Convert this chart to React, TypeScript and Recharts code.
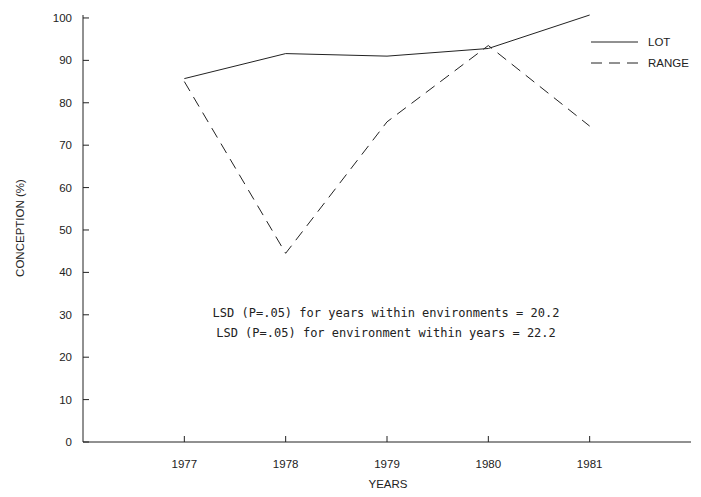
import { Customized, Line, LineChart, XAxis, YAxis } from "recharts";

const years = [1977, 1978, 1979, 1980, 1981];
const lotValues = [85.7, 91.6, 91.0, 92.8, 100.7];
const rangeValues = [85.0, 44.5, 75.5, 93.5, 74.5];
const yTicks = [0, 10, 20, 30, 40, 50, 60, 70, 80, 90, 100];
const notes = [
  "LSD (P=.05) for years within environments = 20.2",
  "LSD (P=.05) for environment within years = 22.2",
];

const data = years.map((year, i) => ({ year, lot: lotValues[i], range: rangeValues[i] }));

const ink = "#222";
const font = "Liberation Sans, Arial, sans-serif";
const tickFont = { fontFamily: font, fontSize: 11.5, fill: ink };
const X_GAP = 18;
const Y_GAP = 11;

// ticks point into the plot, so draw the little mark with the label
function XTick(props: any) {
  const { x, y, payload } = props;
  return (
    <g>
      <line x1={x} x2={x} y1={y - X_GAP} y2={y - X_GAP - 6} stroke={ink} />
      <text x={x} y={y} dy="0.71em" textAnchor="middle" {...tickFont}>
        {payload.value}
      </text>
    </g>
  );
}

function YTick(props: any) {
  const { x, y, payload } = props;
  return (
    <g>
      <line x1={x + Y_GAP} x2={x + Y_GAP + 6} y1={y} y2={y} stroke={ink} />
      <text x={x} y={y} dy="0.355em" textAnchor="end" {...tickFont}>
        {payload.value}
      </text>
    </g>
  );
}

// legend, axis titles and the LSD notes
function Extras() {
  const rows = [
    { label: "LOT", dash: undefined },
    { label: "RANGE", dash: "11 7" },
  ];
  return (
    <g>
      {rows.map((r, i) => (
        <g key={r.label}>
          <line x1={591} x2={638} y1={42 + i * 21} y2={42 + i * 21} stroke={ink} strokeDasharray={r.dash} />
          <text x={648} y={46 + i * 21} {...tickFont}>
            {r.label}
          </text>
        </g>
      ))}
      <text x={388} y={488} textAnchor="middle" {...tickFont}>
        YEARS
      </text>
      <text x={24} y={228} textAnchor="middle" transform="rotate(-90 24 228)" {...tickFont}>
        CONCEPTION (%)
      </text>
      {notes.map((t, i) => (
        <text
          key={i}
          x={386}
          y={317 + i * 20}
          textAnchor="middle"
          fontFamily="DejaVu Sans Mono, Liberation Mono, monospace"
          fontSize={12}
          fill={ink}
        >
          {t}
        </text>
      ))}
    </g>
  );
}

export default function App() {
  return (
    <div style={{ position: "absolute", left: 0, top: 0, background: "#fff" }}>
      <LineChart width={701} height={497} data={data} margin={{ top: 15, right: 10, bottom: 25, left: 0 }}>
        <XAxis
          dataKey="year"
          type="number"
          domain={[1976, 1982]}
          ticks={years}
          height={30}
          stroke={ink}
          tickLine={false}
          tickSize={0}
          tickMargin={X_GAP}
          tick={<XTick />}
        />
        <YAxis
          width={83}
          domain={[0, 100]}
          ticks={yTicks}
          stroke={ink}
          tickLine={false}
          tickSize={0}
          tickMargin={Y_GAP}
          tick={<YTick />}
        />
        <Line dataKey="lot" stroke={ink} strokeWidth={1} dot={false} isAnimationActive={false} />
        <Line
          dataKey="range"
          stroke={ink}
          strokeWidth={1}
          strokeDasharray="11 7"
          dot={false}
          isAnimationActive={false}
        />
        <Customized component={Extras} />
      </LineChart>
    </div>
  );
}
